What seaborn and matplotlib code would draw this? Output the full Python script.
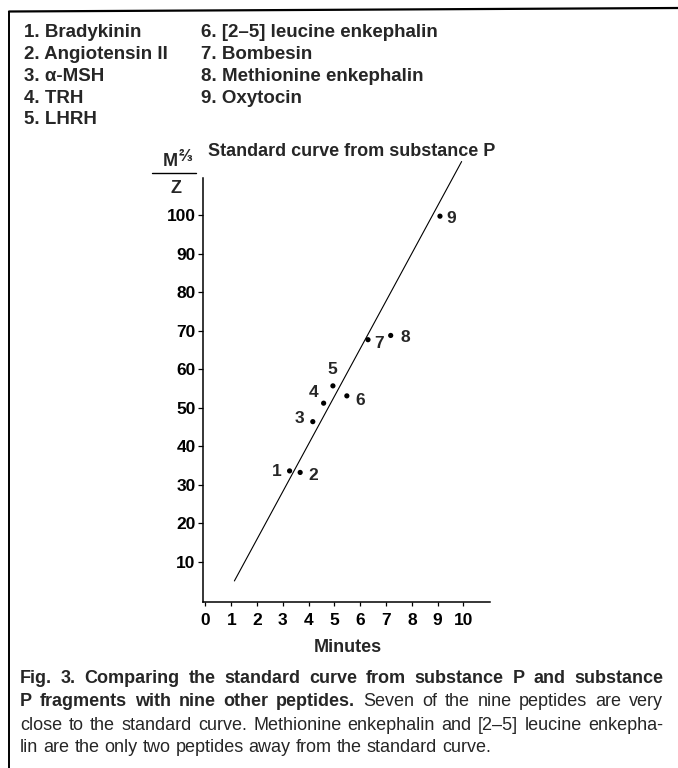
import matplotlib
matplotlib.use("Agg")
import matplotlib.pyplot as plt
import matplotlib.transforms as mtransforms
from matplotlib.lines import Line2D
import seaborn as sns
import pandas as pd

# ---------------- data ----------------
peptide_ids = [1, 2, 3, 4, 5, 6, 7, 8, 9]
peptide_names = ["Bradykinin", "Angiotensin II", "\u03b1-MSH", "TRH", "LHRH",
                 "[2\u20135] leucine enkephalin", "Bombesin",
                 "Methionine enkephalin", "Oxytocin"]
minutes = [3.26, 3.67, 4.16, 4.58, 4.94, 5.48, 6.30, 7.18, 9.09]
m23_over_z = [33.6, 33.2, 46.4, 51.2, 55.7, 53.1, 67.7, 68.8, 99.8]
std_minutes = [1.12, 9.93]
std_values = [5.0, 114.0]
x_ticks = [0, 1, 2, 3, 4, 5, 6, 7, 8, 9, 10]
y_ticks = [10, 20, 30, 40, 50, 60, 70, 80, 90, 100]
title_text = "Standard curve from substance P"
x_label = "Minutes"
caption_lines = [
    [("Fig. 3. Comparing the standard curve from substance P and substance", "bold")],
    [("P fragments with nine other peptides.", "bold"),
     ("Seven of the nine peptides are very", "normal")],
    [("close to the standard curve. Methionine enkephalin and [2\u20135] leucine enkepha-", "normal")],
    [("lin are the only two peptides away from the standard curve.", "normal")],
]
# label offsets (points) for the numbered markers
label_dx = [-9.4, 9.4, -9.4, -7.2, -0.7, 9.4, 7.9, 10.8, 8.4]
label_dy = [-0.7, -2.2, 2.2, 7.9, 11.5, -3.6, -2.9, -1.4, -1.7]

W, H = 678, 768
sns.set_theme(style="ticks")
plt.rcParams["font.family"] = ["Liberation Sans", "DejaVu Sans"]

fig = plt.figure(figsize=(W / 100, H / 100), dpi=100)
fig.patch.set_facecolor("white")
PX = mtransforms.IdentityTransform()


def ftext(x, y, s, **kw):
    return fig.text(x, H - y, s, transform=PX, **kw)


# ---------------- axes ----------------
ax_l, ax_r, ax_t, ax_b = 203.3, 490, 177.7, 602.3
ax = fig.add_axes([ax_l / W, 1 - ax_b / H, (ax_r - ax_l) / W, (ax_b - ax_t) / H])
ax.set_facecolor("white")

df = pd.DataFrame({"Minutes": minutes, "M23Z": m23_over_z, "id": peptide_ids})
std_df = pd.DataFrame({"Minutes": std_minutes, "M23Z": std_values})
sns.lineplot(data=std_df, x="Minutes", y="M23Z", ax=ax, color="black", lw=0.8)
for ln in ax.get_lines():
    ln.set_clip_on(False)
sns.scatterplot(data=df, x="Minutes", y="M23Z", ax=ax, color="black", s=14,
                edgecolor="none", zorder=3)

for i, pid in enumerate(peptide_ids):
    ax.annotate(str(pid), (minutes[i], m23_over_z[i]),
                xytext=(label_dx[i], label_dy[i]), textcoords="offset points",
                ha="center", va="center", fontsize=12.5, fontweight="bold")

ax.set_xlim(-0.085, 11.03)
ax.set_ylim(-0.55, 109.8)
ax.set_xticks(x_ticks)
ax.set_xticklabels([str(v) for v in x_ticks])
ax.set_yticks(y_ticks)
ax.set_yticklabels([str(v) for v in y_ticks])
ax.set_xlabel("")
ax.set_ylabel("")
for side in ["top", "right"]:
    ax.spines[side].set_visible(False)
for side in ["left", "bottom"]:
    ax.spines[side].set_linewidth(1.1)
    ax.spines[side].set_color("black")
ax.tick_params(axis="x", direction="out", length=3, width=0.9, pad=5,
               labelsize=12.5, colors="black")
ax.tick_params(axis="y", direction="out", length=3.6, width=0.9, pad=2,
               labelsize=12.5, colors="black")
for lab in ax.get_xticklabels() + ax.get_yticklabels():
    lab.set_fontweight("bold")

# x label
ftext(348, 652, x_label, fontsize=13, fontweight="bold", ha="center", va="baseline")
# title
ftext(208, 156, title_text, fontsize=13, fontweight="bold", ha="left", va="baseline")
# y label: M^(2/3) over Z
ftext(170.5, 166, "M", fontsize=13, fontweight="bold", ha="center", va="baseline")
ftext(178.5, 161, "\u2154", fontsize=12, fontweight="bold", ha="left", va="baseline")
fig.add_artist(Line2D([152 / W, 196 / W], [1 - 173 / H, 1 - 173 / H],
                      color="black", lw=1.0, transform=fig.transFigure))
ftext(176, 193, "Z", fontsize=13, fontweight="bold", ha="center", va="baseline")

# ---------------- legend list ----------------
base = [37.3, 59.3, 81.0, 102.7, 124.3]
for i, (pid, name) in enumerate(zip(peptide_ids, peptide_names)):
    col_x = 24 if i < 5 else 201
    row = i if i < 5 else i - 5
    ftext(col_x, base[row], f"{pid}. {name}", fontsize=13.5, fontweight="bold",
          ha="left", va="baseline")

# ---------------- caption (justified) ----------------
renderer = fig.canvas.get_renderer()
cap_fs = 13
cap_base = [683, 706.5, 729.5, 752]
x0, x1 = 20, 663
for li, segs in enumerate(caption_lines):
    words = []
    for seg, wt in segs:
        for w in seg.split(" "):
            words.append((w, wt))
    objs = [ftext(0, cap_base[li], w, fontsize=cap_fs, fontweight=wt,
                  ha="left", va="baseline") for w, wt in words]
    widths = [o.get_window_extent(renderer).width for o in objs]
    space = 0.278 * cap_fs * 100 / 72
    if li < len(caption_lines) - 1:
        gap = (x1 - x0 - sum(widths)) / (len(words) - 1)
    else:
        gap = space
    x = x0
    for o, w in zip(objs, widths):
        o.set_position((x, H - cap_base[li]))
        x += w + gap

# ---------------- frame lines (top and left) ----------------
fig.add_artist(Line2D([9 / W, 1.0], [1 - 11.5 / H, 1 - 8 / H], color="black",
                      lw=1.6, transform=fig.transFigure))
fig.add_artist(Line2D([9 / W, 9 / W], [1 - 11.5 / H, 0.0], color="black",
                      lw=1.4, transform=fig.transFigure))

fig.savefig("out.png", dpi=100, facecolor="white")
